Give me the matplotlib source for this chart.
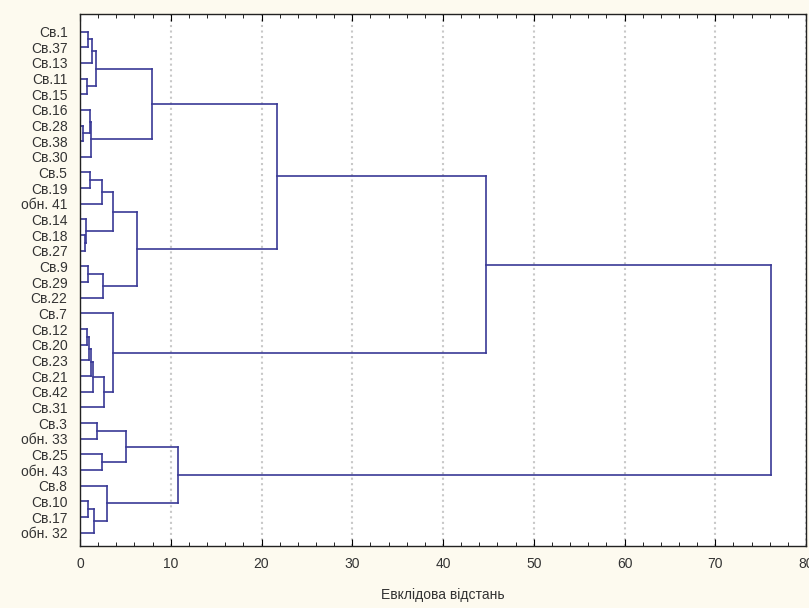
import matplotlib
matplotlib.use('Agg')
import matplotlib.pyplot as plt
from matplotlib.ticker import MultipleLocator

plt.rcParams['font.family'] = ['Liberation Sans', 'DejaVu Sans']

# leaves in the order they are shown, top to bottom
labels = ['Св.1', 'Св.37', 'Св.13', 'Св.11', 'Св.15', 'Св.16', 'Св.28', 'Св.38',
          'Св.30', 'Св.5', 'Св.19', 'обн. 41', 'Св.14', 'Св.18', 'Св.27', 'Св.9',
          'Св.29', 'Св.22', 'Св.7', 'Св.12', 'Св.20', 'Св.23', 'Св.21', 'Св.42',
          'Св.31', 'Св.3', 'обн. 33', 'Св.25', 'обн. 43', 'Св.8', 'Св.10',
          'Св.17', 'обн. 32']

# merges: (cluster a, cluster b, distance); new clusters get ids 33, 34, ...
merge_a = [6, 5, 34, 0, 36, 3, 37, 39, 9, 41, 13, 12, 42, 15, 46, 45, 40,
           19, 50, 51, 52, 53, 18, 49, 25, 27, 57, 30, 60, 29, 59, 56]
merge_b = [7, 33, 8, 1, 2, 4, 38, 35, 10, 11, 14, 43, 44, 16, 17, 47, 48,
           20, 21, 22, 23, 24, 54, 55, 26, 28, 58, 31, 32, 61, 62, 63]
merge_h = [0.30, 1.10, 1.25, 0.84, 1.36, 0.81, 1.77, 7.95, 1.14, 2.38, 0.55,
           0.65, 3.60, 0.92, 2.50, 6.30, 21.7, 0.80, 1.00, 1.20, 1.39, 2.68,
           3.60, 44.7, 1.90, 2.38, 5.03, 0.92, 1.54, 3.00, 10.8, 76.1]

line_color = '#3a3a96'

fig = plt.figure(figsize=(8.09, 6.08), dpi=100)
fig.patch.set_facecolor('#fdfaef')
ax = fig.add_axes([80 / 809, 1 - 546 / 608, 726 / 809, 532 / 608])
ax.set_facecolor('white')

n = len(labels)
ypos = {i: float(i) for i in range(n)}
hgt = {i: 0.0 for i in range(n)}
for k in range(len(merge_h)):
    a, b, h = merge_a[k], merge_b[k], merge_h[k]
    ya, yb = ypos[a], ypos[b]
    ax.plot([hgt[a], h], [ya, ya], color=line_color, lw=1.2)
    ax.plot([hgt[b], h], [yb, yb], color=line_color, lw=1.2)
    ax.plot([h, h], [ya, yb], color=line_color, lw=1.2)
    ypos[n + k] = (ya + yb) / 2
    hgt[n + k] = h

ax.set_xlim(0, 80)
ax.set_ylim(n - 1 + 0.85, -1.12)
ax.set_yticks(range(n))
ax.set_yticklabels(labels, fontsize=10, color='#333333')
ax.tick_params(axis='y', length=0, pad=9)

ax.xaxis.set_major_locator(MultipleLocator(10))
ax.xaxis.set_minor_locator(MultipleLocator(2))
ax.tick_params(axis='x', which='both', direction='in', top=True,
               labelsize=10, labelcolor='#333333', pad=8)
ax.tick_params(axis='x', which='major', length=5)
ax.tick_params(axis='x', which='minor', length=3)
ax.grid(axis='x', which='major', color='#c8c8c8', linestyle=':', lw=1.5)
ax.set_axisbelow(True)

for s in ax.spines.values():
    s.set_color('#222222')
    s.set_linewidth(1.0)

ax.set_xlabel('Евклідова відстань', fontsize=10, color='#333333', labelpad=12)

fig.savefig('out.png', dpi=100, facecolor=fig.get_facecolor())
